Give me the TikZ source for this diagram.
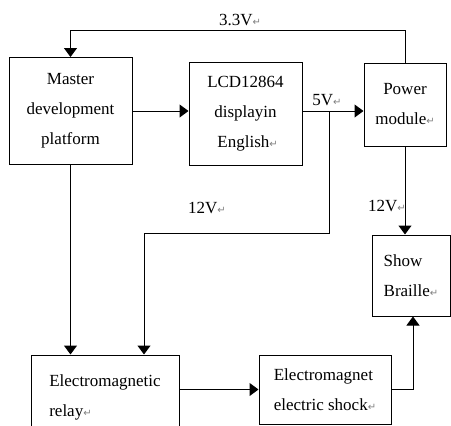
\documentclass[tikz,border=0pt]{standalone}
\usepackage{fontspec}
\setmainfont{Liberation Serif}
\newfontfamily\symfont{DejaVu Sans}
\usetikzlibrary{arrows.meta,calc}
\newcommand{\retmark}{{\symfont\color{gray}\fontsize{10}{10}\selectfont ↵}}
\tikzset{
	blk/.style={draw,line width=1pt,inner sep=0pt,font=\fontsize{17}{30}\selectfont},
	arr/.style={line width=1pt,-{Triangle[length=9pt,width=13pt]}},
	lbl/.style={font=\fontsize{17}{18}\selectfont,inner sep=0pt}
}
\begin{document}
\begin{tikzpicture}[x=1pt,y=-1pt]
	\useasboundingbox[fill=white] (0,0) rectangle (451,426);
		\node[blk,minimum width=123,minimum height=107,align=center] (master) at (70.5,111) {Master\\development\\platform};
		\node[blk,minimum width=113,minimum height=103,align=center] (lcd) at (245.5,113.5) {LCD12864\\displayin\\\ English\retmark};
		\node[blk,minimum width=82,minimum height=83,align=center] (power) at (405,104.5) {Power\\module\retmark};
		\node[blk,minimum width=78,minimum height=81,align=left] (braille) at (411,275.5) {Show\\Braille\retmark};
		\node[blk,minimum width=148,minimum height=84,align=left] (relay) at (105,397) {Electromagnetic\\relay\retmark};
		\node[blk,minimum width=132,minimum height=69,align=left] (shock) at (325,389.5) {Electromagnet\\electric shock\retmark};
	% bus points
		\coordinate (top) at (0,30);
		\coordinate (tap) at (329,111);
		\coordinate (bend) at (144,233);
		\draw[arr] (power.north) |- (top -| master.north) -- (master.north);
		\draw[arr] (master.east |- tap) -- (lcd.west |- tap);
		\draw[arr] (lcd.east |- tap) -- (power.west |- tap);
		\draw[arr] (tap) |- (bend) -- (bend |- relay.north);
		\draw[arr] (master.south) -- (master.south |- relay.north);
		\draw[arr] (power.south) -- (power.south |- braille.north);
		\draw[arr] (relay.east |- shock.east) -- (shock.west);
		\draw[arr] (shock.east) -| ($(braille.south)+(2,0)$);
			\node[lbl] (v33) at (240,20) {3.3V\retmark};
			\node[lbl] (v5) at (327,100) {5V\retmark};
			\node[lbl] (v12a) at (207,208) {12V\retmark};
			\node[lbl] (v12b) at (387,206) {12V\retmark};
\end{tikzpicture}
\end{document}
